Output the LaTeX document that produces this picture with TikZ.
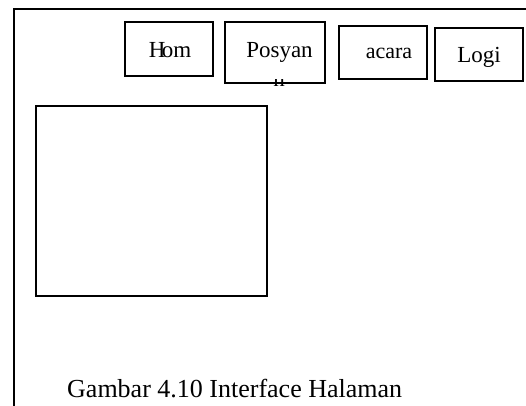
\documentclass[tikz,border=0pt]{standalone}
\usepackage{fontspec}
\setmainfont{Liberation Serif}
\begin{document}
\begin{tikzpicture}[x=1pt,y=-1pt,
  frameline/.style={line width=1.5pt},
  btn/.style={draw, line width=1.8pt, anchor=north west, inner sep=0pt, outer sep=0pt},
  lbl/.style={anchor=base, inner sep=0pt, font=\fontsize{23}{27}\selectfont},
  caption/.style={anchor=base west, inner sep=0pt, font=\fontsize{26}{31}\selectfont}]
  \useasboundingbox (0,0) rectangle (526,405);

  % page frame: only the top and left edges are in view
  \coordinate (ftr) at (530,9);
  \coordinate (ftl) at (14,9);
  \coordinate (fbl) at (14,410);
  \draw[frameline] (ftr) -- (ftl) -- (fbl);

  % menu buttons
  \node[btn, minimum width=88, minimum height=54] (home) at (125,22) {};
  \node[btn, minimum width=100, minimum height=61] (posyan) at (225,22) {};
  \node[btn, minimum width=88, minimum height=53] (acara) at (339,26) {};
  \node[btn, minimum width=88, minimum height=53] (login) at (435,28) {};

  \node[lbl] (homet) at (170,57) {H\kern-3.5pt om};
  \node[lbl] (posyant) at (279.5,57) {Posyan};
  \node[lbl, font=\fontsize{22}{26}\selectfont] (acarat) at (389,58) {acara};
  \node[lbl] (logint) at (479,62) {Logi};

  % second line of the Posyan label, cut off by the button edge
  \begin{scope}
    \clip (225,79.5) rectangle (325,90);
    \node[lbl] (posyanb) at (279,86) {n};
  \end{scope}

  % content area
  \node[btn, minimum width=231, minimum height=190] (content) at (36,106) {};

  % caption, cut off at its right end
  \begin{scope}
    \clip (0,360) rectangle (401.5,405);
    \node[caption] (cap) at (67,397) {Gambar 4.10 Interface Halaman};
  \end{scope}
\end{tikzpicture}
\end{document}
